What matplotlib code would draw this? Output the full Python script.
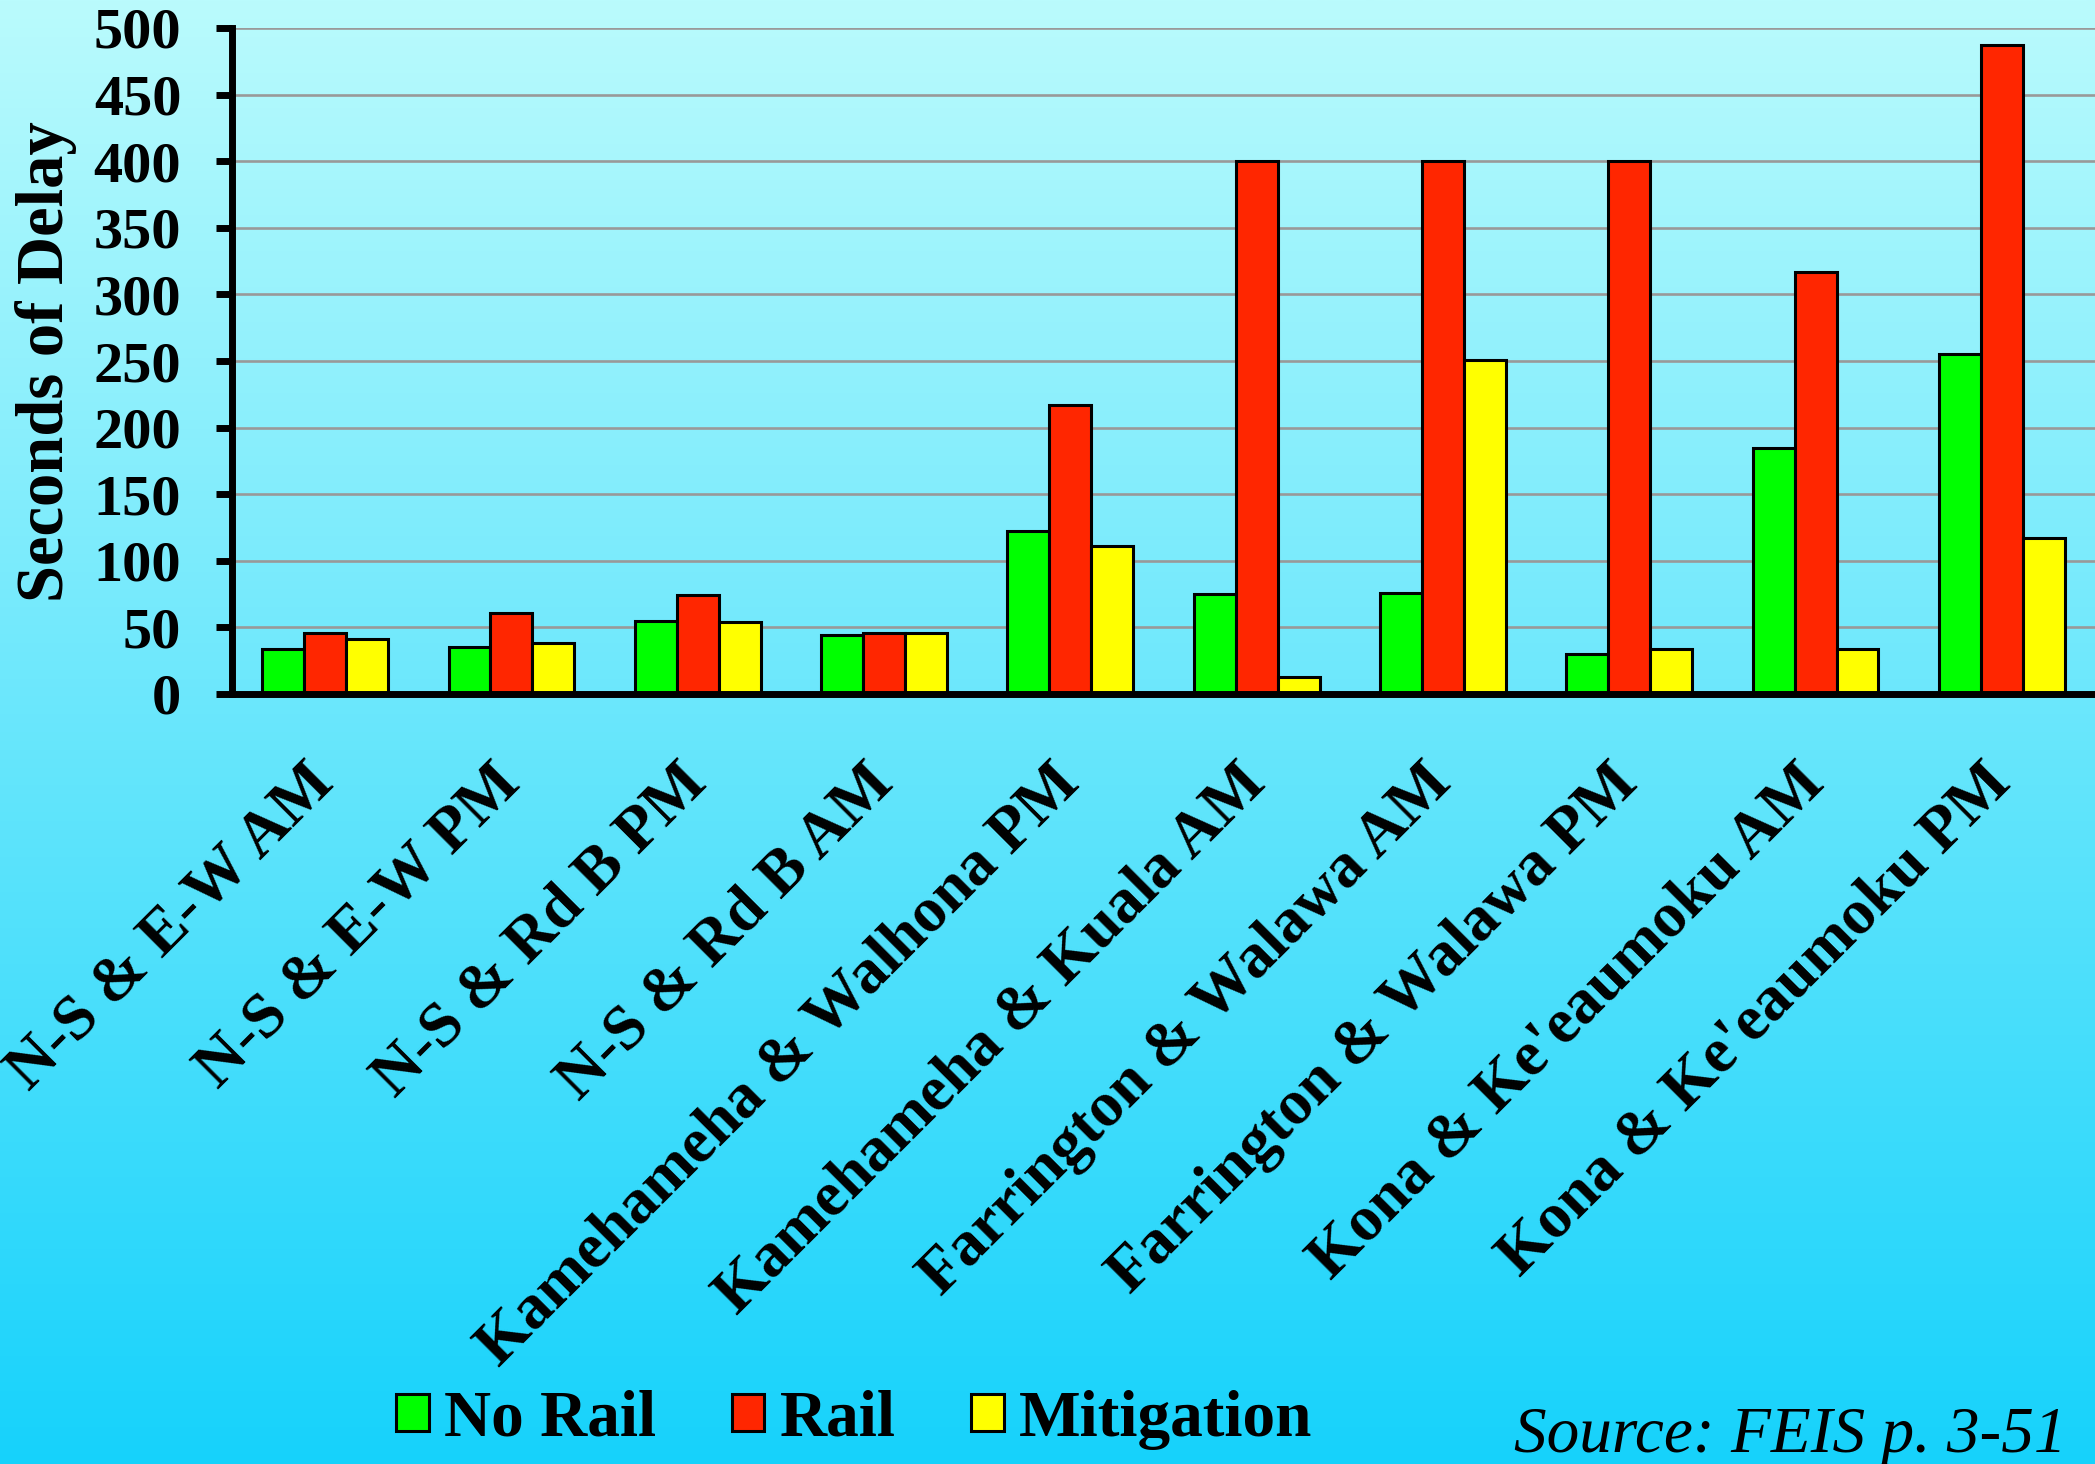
import numpy as np
import matplotlib
matplotlib.use("Agg")
import matplotlib.pyplot as plt
from matplotlib.patches import Patch

# Intersection delay by scenario (seconds)
categories = [
    "N-S & E-W AM",
    "N-S & E-W PM",
    "N-S & Rd B PM",
    "N-S & Rd B AM",
    "Kamehameha & Walhona PM",
    "Kamehameha & Kuala AM",
    "Farrington & Walawa AM",
    "Farrington & Walawa PM",
    "Kona & Ke'eaumoku AM",
    "Kona & Ke'eaumoku PM",
]
no_rail = [34, 35, 55, 44, 122, 75, 76, 30, 185, 255]
rail = [46, 61, 74, 46, 217, 400, 400, 400, 317, 487]
mitigation = [41, 38, 54, 46, 111, 13, 251, 34, 34, 117]
series_names = ["No Rail", "Rail", "Mitigation"]
y_ticks = [0, 50, 100, 150, 200, 250, 300, 350, 400, 450, 500]

colors = ["#00ff00", "#ff2600", "#ffff00"]
serif = "Liberation Serif"

W, H, DPI = 2095, 1464, 100
fig = plt.figure(figsize=(W / DPI, H / DPI), dpi=DPI)

# vertical cyan gradient behind everything
bg = fig.add_axes([0, 0, 1, 1], zorder=-10)
top = np.array([186, 251, 253]) / 255.0
bot = np.array([22, 210, 251]) / 255.0
t = np.linspace(0, 1, 512)[:, None]
grad = (top[None, :] * (1 - t) + bot[None, :] * t)[:, None, :]
bg.imshow(grad, aspect="auto", extent=[0, 1, 0, 1], interpolation="bilinear")
bg.set_axis_off()

ax = fig.add_axes([232 / W, 1 - 694 / H, 1 - 232 / W, (694 - 28) / H])
ax.patch.set_alpha(0)

x = np.arange(len(categories))
bw = 0.225
for i, (vals, c, name) in enumerate(zip([no_rail, rail, mitigation], colors, series_names)):
    ax.bar(x + (i - 1) * bw, vals, width=bw, color=c, edgecolor="black",
           linewidth=2.2, label=name, zorder=3)

ax.set_xlim(-0.5, len(categories) - 0.5)
ax.set_ylim(0, 500)
ax.set_yticks(y_ticks)
ax.yaxis.grid(True, color="#999999", linewidth=1.9, zorder=0)
ax.set_axisbelow(True)

for s in ["top", "right"]:
    ax.spines[s].set_visible(False)
for s in ["left", "bottom"]:
    ax.spines[s].set_linewidth(5)
    ax.spines[s].set_color("black")
    ax.spines[s].set_zorder(5)

ax.tick_params(axis="y", length=11.5, width=5, pad=25)
ax.tick_params(axis="x", length=0, pad=58)
for lab in ax.get_yticklabels():
    lab.set_fontfamily(serif)
    lab.set_fontweight("bold")
    lab.set_fontsize(42)

ax.set_xticks(x)
ax.set_xticklabels(categories, rotation=45, ha="right", va="center",
                   rotation_mode="anchor", fontfamily=serif,
                   fontweight="bold", fontsize=46)

fig.text(46 / W, 1 - 362 / H, "Seconds of Delay", rotation=90, ha="center",
         va="center", fontfamily=serif, fontweight="bold", fontsize=48)

handles = [Patch(facecolor=c, edgecolor="black", linewidth=2.2) for c in colors]
fig.legend(handles, series_names, loc="center left",
           bbox_to_anchor=(396 / W, 1 - 1420 / H), ncol=3, frameon=False,
           prop={"family": serif, "weight": "bold", "size": 47},
           handlelength=0.5, handleheight=0.5, handletextpad=0.24,
           columnspacing=1.15, borderpad=0, borderaxespad=0)

fig.text(1514 / W, 1 - 1452 / H, "Source: FEIS p. 3-51", ha="left",
         va="baseline", fontfamily=serif, fontstyle="italic", fontsize=47)

fig.savefig("out.png", dpi=DPI)
